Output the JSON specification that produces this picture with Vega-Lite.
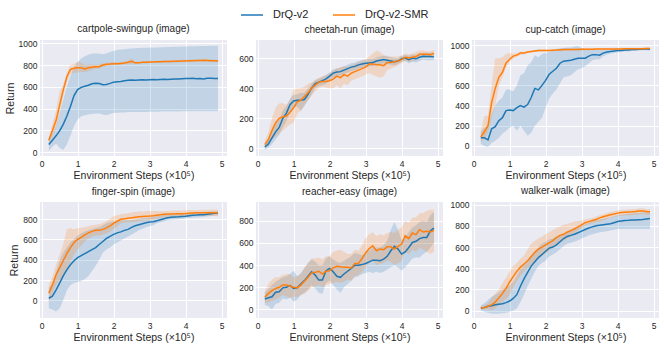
{
"$schema":"https://vega.github.io/schema/vega-lite/v6.json",
"padding":{"left":5,"top":3,"right":5,"bottom":5},
"background":"#ffffff",
"bounds":"flush",
"columns":3,
"spacing":{"row":46,"column":29},
"datasets":{
"cartpole":[
{"method":"DrQ-v2","x":0.2,"y":70,"lo":10,"hi":120},{"method":"DrQ-v2","x":0.3,"y":110,"lo":50,"hi":170},{"method":"DrQ-v2","x":0.4,"y":150,"lo":80,"hi":240},{"method":"DrQ-v2","x":0.5,"y":195,"lo":40,"hi":360},{"method":"DrQ-v2","x":0.6,"y":255,"lo":20,"hi":480},{"method":"DrQ-v2","x":0.7,"y":330,"lo":70,"hi":600},{"method":"DrQ-v2","x":0.8,"y":420,"lo":150,"hi":700},{"method":"DrQ-v2","x":0.9,"y":520,"lo":240,"hi":780},{"method":"DrQ-v2","x":1.0,"y":575,"lo":300,"hi":830},{"method":"DrQ-v2","x":1.1,"y":595,"lo":330,"hi":860},{"method":"DrQ-v2","x":1.2,"y":605,"lo":340,"hi":880},{"method":"DrQ-v2","x":1.3,"y":615,"lo":345,"hi":895},{"method":"DrQ-v2","x":1.4,"y":628,"lo":350,"hi":905},{"method":"DrQ-v2","x":1.5,"y":632,"lo":355,"hi":905},{"method":"DrQ-v2","x":1.6,"y":630,"lo":355,"hi":905},{"method":"DrQ-v2","x":1.7,"y":620,"lo":345,"hi":900},{"method":"DrQ-v2","x":1.8,"y":622,"lo":340,"hi":905},{"method":"DrQ-v2","x":1.9,"y":632,"lo":350,"hi":920},{"method":"DrQ-v2","x":2.0,"y":643,"lo":360,"hi":930},{"method":"DrQ-v2","x":2.1,"y":647,"lo":362,"hi":938},{"method":"DrQ-v2","x":2.2,"y":650,"lo":365,"hi":942},{"method":"DrQ-v2","x":2.3,"y":655,"lo":365,"hi":946},{"method":"DrQ-v2","x":2.4,"y":660,"lo":368,"hi":950},{"method":"DrQ-v2","x":2.5,"y":662,"lo":368,"hi":953},{"method":"DrQ-v2","x":2.6,"y":660,"lo":368,"hi":955},{"method":"DrQ-v2","x":2.7,"y":662,"lo":370,"hi":957},{"method":"DrQ-v2","x":2.8,"y":664,"lo":370,"hi":958},{"method":"DrQ-v2","x":2.9,"y":663,"lo":370,"hi":958},{"method":"DrQ-v2","x":3.0,"y":665,"lo":372,"hi":960},{"method":"DrQ-v2","x":3.1,"y":667,"lo":372,"hi":962},{"method":"DrQ-v2","x":3.2,"y":665,"lo":372,"hi":962},{"method":"DrQ-v2","x":3.3,"y":668,"lo":373,"hi":963},{"method":"DrQ-v2","x":3.4,"y":669,"lo":373,"hi":964},{"method":"DrQ-v2","x":3.5,"y":668,"lo":373,"hi":965},{"method":"DrQ-v2","x":3.6,"y":670,"lo":374,"hi":966},{"method":"DrQ-v2","x":3.7,"y":672,"lo":374,"hi":967},{"method":"DrQ-v2","x":3.8,"y":673,"lo":374,"hi":968},{"method":"DrQ-v2","x":3.9,"y":675,"lo":375,"hi":970},{"method":"DrQ-v2","x":4.0,"y":676,"lo":375,"hi":971},{"method":"DrQ-v2","x":4.1,"y":677,"lo":375,"hi":972},{"method":"DrQ-v2","x":4.2,"y":678,"lo":375,"hi":973},{"method":"DrQ-v2","x":4.3,"y":675,"lo":375,"hi":973},{"method":"DrQ-v2","x":4.4,"y":676,"lo":375,"hi":974},{"method":"DrQ-v2","x":4.5,"y":673,"lo":375,"hi":975},{"method":"DrQ-v2","x":4.6,"y":678,"lo":376,"hi":976},{"method":"DrQ-v2","x":4.7,"y":678,"lo":376,"hi":977},{"method":"DrQ-v2","x":4.8,"y":677,"lo":376,"hi":977},{"method":"DrQ-v2","x":4.9,"y":677,"lo":377,"hi":978},
{"method":"DrQ-v2-SMR","x":0.2,"y":110,"lo":80,"hi":140},{"method":"DrQ-v2-SMR","x":0.3,"y":200,"lo":150,"hi":260},{"method":"DrQ-v2-SMR","x":0.4,"y":290,"lo":220,"hi":380},{"method":"DrQ-v2-SMR","x":0.5,"y":430,"lo":360,"hi":560},{"method":"DrQ-v2-SMR","x":0.6,"y":570,"lo":510,"hi":620},{"method":"DrQ-v2-SMR","x":0.7,"y":690,"lo":640,"hi":730},{"method":"DrQ-v2-SMR","x":0.8,"y":760,"lo":720,"hi":800},{"method":"DrQ-v2-SMR","x":0.9,"y":770,"lo":730,"hi":810},{"method":"DrQ-v2-SMR","x":1.0,"y":775,"lo":730,"hi":830},{"method":"DrQ-v2-SMR","x":1.1,"y":775,"lo":740,"hi":820},{"method":"DrQ-v2-SMR","x":1.2,"y":765,"lo":735,"hi":800},{"method":"DrQ-v2-SMR","x":1.3,"y":775,"lo":745,"hi":805},{"method":"DrQ-v2-SMR","x":1.4,"y":780,"lo":755,"hi":805},{"method":"DrQ-v2-SMR","x":1.5,"y":785,"lo":765,"hi":805},{"method":"DrQ-v2-SMR","x":1.6,"y":785,"lo":768,"hi":802},{"method":"DrQ-v2-SMR","x":1.7,"y":800,"lo":785,"hi":815},{"method":"DrQ-v2-SMR","x":1.8,"y":808,"lo":792,"hi":822},{"method":"DrQ-v2-SMR","x":1.9,"y":810,"lo":796,"hi":824},{"method":"DrQ-v2-SMR","x":2.0,"y":813,"lo":800,"hi":826},{"method":"DrQ-v2-SMR","x":2.1,"y":812,"lo":800,"hi":824},{"method":"DrQ-v2-SMR","x":2.2,"y":815,"lo":803,"hi":827},{"method":"DrQ-v2-SMR","x":2.3,"y":818,"lo":806,"hi":830},{"method":"DrQ-v2-SMR","x":2.4,"y":825,"lo":810,"hi":840},{"method":"DrQ-v2-SMR","x":2.5,"y":835,"lo":808,"hi":860},{"method":"DrQ-v2-SMR","x":2.6,"y":820,"lo":808,"hi":832},{"method":"DrQ-v2-SMR","x":2.7,"y":820,"lo":810,"hi":830},{"method":"DrQ-v2-SMR","x":2.8,"y":825,"lo":815,"hi":835},{"method":"DrQ-v2-SMR","x":2.9,"y":825,"lo":815,"hi":835},{"method":"DrQ-v2-SMR","x":3.0,"y":828,"lo":818,"hi":838},{"method":"DrQ-v2-SMR","x":3.1,"y":828,"lo":818,"hi":838},{"method":"DrQ-v2-SMR","x":3.2,"y":830,"lo":820,"hi":840},{"method":"DrQ-v2-SMR","x":3.3,"y":830,"lo":820,"hi":840},{"method":"DrQ-v2-SMR","x":3.4,"y":832,"lo":822,"hi":842},{"method":"DrQ-v2-SMR","x":3.5,"y":832,"lo":822,"hi":842},{"method":"DrQ-v2-SMR","x":3.6,"y":833,"lo":823,"hi":843},{"method":"DrQ-v2-SMR","x":3.7,"y":835,"lo":825,"hi":845},{"method":"DrQ-v2-SMR","x":3.8,"y":836,"lo":826,"hi":846},{"method":"DrQ-v2-SMR","x":3.9,"y":838,"lo":828,"hi":848},{"method":"DrQ-v2-SMR","x":4.0,"y":838,"lo":828,"hi":848},{"method":"DrQ-v2-SMR","x":4.1,"y":840,"lo":830,"hi":850},{"method":"DrQ-v2-SMR","x":4.2,"y":840,"lo":830,"hi":850},{"method":"DrQ-v2-SMR","x":4.3,"y":842,"lo":832,"hi":852},{"method":"DrQ-v2-SMR","x":4.4,"y":842,"lo":832,"hi":852},{"method":"DrQ-v2-SMR","x":4.5,"y":843,"lo":833,"hi":853},{"method":"DrQ-v2-SMR","x":4.6,"y":842,"lo":832,"hi":852},{"method":"DrQ-v2-SMR","x":4.7,"y":840,"lo":830,"hi":850},{"method":"DrQ-v2-SMR","x":4.8,"y":840,"lo":830,"hi":850},{"method":"DrQ-v2-SMR","x":4.9,"y":838,"lo":828,"hi":848}
],
"cheetah":[
{"method":"DrQ-v2","x":0.2,"y":10,"lo":-10,"hi":30},{"method":"DrQ-v2","x":0.3,"y":30,"lo":5,"hi":55},{"method":"DrQ-v2","x":0.4,"y":70,"lo":30,"hi":110},{"method":"DrQ-v2","x":0.5,"y":110,"lo":60,"hi":160},{"method":"DrQ-v2","x":0.6,"y":140,"lo":90,"hi":190},{"method":"DrQ-v2","x":0.7,"y":200,"lo":140,"hi":250},{"method":"DrQ-v2","x":0.8,"y":235,"lo":180,"hi":280},{"method":"DrQ-v2","x":0.9,"y":290,"lo":240,"hi":330},{"method":"DrQ-v2","x":1.0,"y":315,"lo":270,"hi":355},{"method":"DrQ-v2","x":1.1,"y":320,"lo":280,"hi":360},{"method":"DrQ-v2","x":1.2,"y":320,"lo":250,"hi":370},{"method":"DrQ-v2","x":1.3,"y":325,"lo":280,"hi":370},{"method":"DrQ-v2","x":1.4,"y":360,"lo":320,"hi":400},{"method":"DrQ-v2","x":1.5,"y":400,"lo":360,"hi":430},{"method":"DrQ-v2","x":1.6,"y":430,"lo":400,"hi":455},{"method":"DrQ-v2","x":1.7,"y":440,"lo":415,"hi":465},{"method":"DrQ-v2","x":1.8,"y":450,"lo":420,"hi":475},{"method":"DrQ-v2","x":1.9,"y":462,"lo":430,"hi":490},{"method":"DrQ-v2","x":2.0,"y":480,"lo":450,"hi":505},{"method":"DrQ-v2","x":2.1,"y":500,"lo":470,"hi":525},{"method":"DrQ-v2","x":2.2,"y":508,"lo":480,"hi":530},{"method":"DrQ-v2","x":2.3,"y":510,"lo":485,"hi":535},{"method":"DrQ-v2","x":2.4,"y":520,"lo":495,"hi":545},{"method":"DrQ-v2","x":2.5,"y":530,"lo":505,"hi":555},{"method":"DrQ-v2","x":2.6,"y":540,"lo":515,"hi":565},{"method":"DrQ-v2","x":2.7,"y":545,"lo":520,"hi":570},{"method":"DrQ-v2","x":2.8,"y":555,"lo":530,"hi":580},{"method":"DrQ-v2","x":2.9,"y":560,"lo":535,"hi":585},{"method":"DrQ-v2","x":3.0,"y":565,"lo":540,"hi":590},{"method":"DrQ-v2","x":3.1,"y":568,"lo":545,"hi":595},{"method":"DrQ-v2","x":3.2,"y":570,"lo":545,"hi":595},{"method":"DrQ-v2","x":3.3,"y":580,"lo":555,"hi":605},{"method":"DrQ-v2","x":3.4,"y":585,"lo":560,"hi":610},{"method":"DrQ-v2","x":3.5,"y":590,"lo":565,"hi":615},{"method":"DrQ-v2","x":3.6,"y":585,"lo":560,"hi":610},{"method":"DrQ-v2","x":3.7,"y":580,"lo":555,"hi":605},{"method":"DrQ-v2","x":3.8,"y":575,"lo":550,"hi":600},{"method":"DrQ-v2","x":3.9,"y":580,"lo":560,"hi":600},{"method":"DrQ-v2","x":4.0,"y":595,"lo":575,"hi":615},{"method":"DrQ-v2","x":4.1,"y":600,"lo":580,"hi":620},{"method":"DrQ-v2","x":4.2,"y":590,"lo":565,"hi":615},{"method":"DrQ-v2","x":4.3,"y":600,"lo":575,"hi":625},{"method":"DrQ-v2","x":4.4,"y":595,"lo":570,"hi":620},{"method":"DrQ-v2","x":4.5,"y":605,"lo":580,"hi":630},{"method":"DrQ-v2","x":4.6,"y":612,"lo":590,"hi":635},{"method":"DrQ-v2","x":4.7,"y":610,"lo":585,"hi":635},{"method":"DrQ-v2","x":4.8,"y":610,"lo":585,"hi":635},{"method":"DrQ-v2","x":4.9,"y":608,"lo":585,"hi":630},
{"method":"DrQ-v2-SMR","x":0.2,"y":25,"lo":0,"hi":50},{"method":"DrQ-v2-SMR","x":0.3,"y":60,"lo":20,"hi":110},{"method":"DrQ-v2-SMR","x":0.4,"y":120,"lo":60,"hi":200},{"method":"DrQ-v2-SMR","x":0.5,"y":170,"lo":80,"hi":270},{"method":"DrQ-v2-SMR","x":0.6,"y":200,"lo":100,"hi":300},{"method":"DrQ-v2-SMR","x":0.7,"y":210,"lo":120,"hi":300},{"method":"DrQ-v2-SMR","x":0.8,"y":215,"lo":140,"hi":290},{"method":"DrQ-v2-SMR","x":0.9,"y":240,"lo":160,"hi":320},{"method":"DrQ-v2-SMR","x":1.0,"y":270,"lo":170,"hi":390},{"method":"DrQ-v2-SMR","x":1.1,"y":310,"lo":230,"hi":400},{"method":"DrQ-v2-SMR","x":1.2,"y":320,"lo":250,"hi":400},{"method":"DrQ-v2-SMR","x":1.3,"y":345,"lo":290,"hi":410},{"method":"DrQ-v2-SMR","x":1.4,"y":370,"lo":320,"hi":430},{"method":"DrQ-v2-SMR","x":1.5,"y":400,"lo":350,"hi":440},{"method":"DrQ-v2-SMR","x":1.6,"y":420,"lo":380,"hi":455},{"method":"DrQ-v2-SMR","x":1.7,"y":440,"lo":400,"hi":470},{"method":"DrQ-v2-SMR","x":1.8,"y":445,"lo":410,"hi":480},{"method":"DrQ-v2-SMR","x":1.9,"y":445,"lo":405,"hi":485},{"method":"DrQ-v2-SMR","x":2.0,"y":450,"lo":400,"hi":500},{"method":"DrQ-v2-SMR","x":2.1,"y":460,"lo":400,"hi":520},{"method":"DrQ-v2-SMR","x":2.2,"y":480,"lo":420,"hi":530},{"method":"DrQ-v2-SMR","x":2.3,"y":470,"lo":400,"hi":540},{"method":"DrQ-v2-SMR","x":2.4,"y":490,"lo":430,"hi":545},{"method":"DrQ-v2-SMR","x":2.5,"y":480,"lo":420,"hi":540},{"method":"DrQ-v2-SMR","x":2.6,"y":500,"lo":450,"hi":550},{"method":"DrQ-v2-SMR","x":2.7,"y":510,"lo":460,"hi":560},{"method":"DrQ-v2-SMR","x":2.8,"y":520,"lo":470,"hi":570},{"method":"DrQ-v2-SMR","x":2.9,"y":530,"lo":480,"hi":580},{"method":"DrQ-v2-SMR","x":3.0,"y":540,"lo":490,"hi":590},{"method":"DrQ-v2-SMR","x":3.1,"y":560,"lo":500,"hi":610},{"method":"DrQ-v2-SMR","x":3.2,"y":560,"lo":490,"hi":630},{"method":"DrQ-v2-SMR","x":3.3,"y":555,"lo":480,"hi":650},{"method":"DrQ-v2-SMR","x":3.4,"y":555,"lo":470,"hi":640},{"method":"DrQ-v2-SMR","x":3.5,"y":550,"lo":480,"hi":620},{"method":"DrQ-v2-SMR","x":3.6,"y":570,"lo":520,"hi":615},{"method":"DrQ-v2-SMR","x":3.7,"y":570,"lo":530,"hi":610},{"method":"DrQ-v2-SMR","x":3.8,"y":575,"lo":540,"hi":610},{"method":"DrQ-v2-SMR","x":3.9,"y":580,"lo":550,"hi":610},{"method":"DrQ-v2-SMR","x":4.0,"y":590,"lo":565,"hi":615},{"method":"DrQ-v2-SMR","x":4.1,"y":605,"lo":580,"hi":630},{"method":"DrQ-v2-SMR","x":4.2,"y":600,"lo":575,"hi":625},{"method":"DrQ-v2-SMR","x":4.3,"y":605,"lo":580,"hi":630},{"method":"DrQ-v2-SMR","x":4.4,"y":610,"lo":585,"hi":640},{"method":"DrQ-v2-SMR","x":4.5,"y":625,"lo":600,"hi":650},{"method":"DrQ-v2-SMR","x":4.6,"y":625,"lo":600,"hi":650},{"method":"DrQ-v2-SMR","x":4.7,"y":625,"lo":605,"hi":645},{"method":"DrQ-v2-SMR","x":4.8,"y":622,"lo":600,"hi":645},{"method":"DrQ-v2-SMR","x":4.9,"y":632,"lo":610,"hi":655}
],
"cup":[
{"method":"DrQ-v2","x":0.2,"y":80,"lo":20,"hi":140},{"method":"DrQ-v2","x":0.3,"y":80,"lo":0,"hi":180},{"method":"DrQ-v2","x":0.4,"y":60,"lo":-10,"hi":200},{"method":"DrQ-v2","x":0.5,"y":170,"lo":30,"hi":320},{"method":"DrQ-v2","x":0.6,"y":190,"lo":50,"hi":400},{"method":"DrQ-v2","x":0.7,"y":250,"lo":80,"hi":450},{"method":"DrQ-v2","x":0.8,"y":280,"lo":120,"hi":480},{"method":"DrQ-v2","x":0.9,"y":350,"lo":150,"hi":560},{"method":"DrQ-v2","x":1.0,"y":355,"lo":180,"hi":560},{"method":"DrQ-v2","x":1.1,"y":350,"lo":200,"hi":540},{"method":"DrQ-v2","x":1.2,"y":380,"lo":150,"hi":600},{"method":"DrQ-v2","x":1.3,"y":400,"lo":200,"hi":700},{"method":"DrQ-v2","x":1.4,"y":385,"lo":150,"hi":720},{"method":"DrQ-v2","x":1.5,"y":410,"lo":100,"hi":800},{"method":"DrQ-v2","x":1.6,"y":480,"lo":130,"hi":830},{"method":"DrQ-v2","x":1.7,"y":570,"lo":200,"hi":900},{"method":"DrQ-v2","x":1.8,"y":555,"lo":240,"hi":880},{"method":"DrQ-v2","x":1.9,"y":600,"lo":280,"hi":910},{"method":"DrQ-v2","x":2.0,"y":650,"lo":380,"hi":920},{"method":"DrQ-v2","x":2.1,"y":710,"lo":470,"hi":930},{"method":"DrQ-v2","x":2.2,"y":740,"lo":520,"hi":940},{"method":"DrQ-v2","x":2.3,"y":770,"lo":560,"hi":960},{"method":"DrQ-v2","x":2.4,"y":820,"lo":620,"hi":970},{"method":"DrQ-v2","x":2.5,"y":840,"lo":680,"hi":970},{"method":"DrQ-v2","x":2.6,"y":845,"lo":690,"hi":975},{"method":"DrQ-v2","x":2.7,"y":850,"lo":700,"hi":975},{"method":"DrQ-v2","x":2.8,"y":860,"lo":730,"hi":985},{"method":"DrQ-v2","x":2.9,"y":870,"lo":760,"hi":990},{"method":"DrQ-v2","x":3.0,"y":868,"lo":770,"hi":970},{"method":"DrQ-v2","x":3.1,"y":870,"lo":790,"hi":960},{"method":"DrQ-v2","x":3.2,"y":890,"lo":820,"hi":960},{"method":"DrQ-v2","x":3.3,"y":905,"lo":850,"hi":960},{"method":"DrQ-v2","x":3.4,"y":905,"lo":860,"hi":955},{"method":"DrQ-v2","x":3.5,"y":900,"lo":860,"hi":950},{"method":"DrQ-v2","x":3.6,"y":920,"lo":890,"hi":955},{"method":"DrQ-v2","x":3.7,"y":930,"lo":905,"hi":958},{"method":"DrQ-v2","x":3.8,"y":935,"lo":915,"hi":960},{"method":"DrQ-v2","x":3.9,"y":940,"lo":920,"hi":962},{"method":"DrQ-v2","x":4.0,"y":945,"lo":928,"hi":963},{"method":"DrQ-v2","x":4.1,"y":945,"lo":930,"hi":963},{"method":"DrQ-v2","x":4.2,"y":950,"lo":935,"hi":965},{"method":"DrQ-v2","x":4.3,"y":950,"lo":935,"hi":965},{"method":"DrQ-v2","x":4.4,"y":955,"lo":940,"hi":968},{"method":"DrQ-v2","x":4.5,"y":955,"lo":940,"hi":968},{"method":"DrQ-v2","x":4.6,"y":958,"lo":945,"hi":970},{"method":"DrQ-v2","x":4.7,"y":960,"lo":948,"hi":971},{"method":"DrQ-v2","x":4.8,"y":960,"lo":948,"hi":972},{"method":"DrQ-v2","x":4.9,"y":958,"lo":946,"hi":970},
{"method":"DrQ-v2-SMR","x":0.2,"y":90,"lo":40,"hi":150},{"method":"DrQ-v2-SMR","x":0.3,"y":140,"lo":70,"hi":300},{"method":"DrQ-v2-SMR","x":0.4,"y":200,"lo":130,"hi":300},{"method":"DrQ-v2-SMR","x":0.5,"y":430,"lo":280,"hi":600},{"method":"DrQ-v2-SMR","x":0.6,"y":570,"lo":400,"hi":870},{"method":"DrQ-v2-SMR","x":0.7,"y":680,"lo":600,"hi":870},{"method":"DrQ-v2-SMR","x":0.8,"y":730,"lo":680,"hi":880},{"method":"DrQ-v2-SMR","x":0.9,"y":820,"lo":780,"hi":910},{"method":"DrQ-v2-SMR","x":1.0,"y":860,"lo":830,"hi":920},{"method":"DrQ-v2-SMR","x":1.1,"y":890,"lo":870,"hi":915},{"method":"DrQ-v2-SMR","x":1.2,"y":900,"lo":885,"hi":920},{"method":"DrQ-v2-SMR","x":1.3,"y":920,"lo":905,"hi":935},{"method":"DrQ-v2-SMR","x":1.4,"y":920,"lo":905,"hi":935},{"method":"DrQ-v2-SMR","x":1.5,"y":930,"lo":918,"hi":942},{"method":"DrQ-v2-SMR","x":1.6,"y":935,"lo":925,"hi":945},{"method":"DrQ-v2-SMR","x":1.7,"y":942,"lo":932,"hi":952},{"method":"DrQ-v2-SMR","x":1.8,"y":945,"lo":935,"hi":955},{"method":"DrQ-v2-SMR","x":1.9,"y":945,"lo":935,"hi":955},{"method":"DrQ-v2-SMR","x":2.0,"y":945,"lo":935,"hi":955},{"method":"DrQ-v2-SMR","x":2.1,"y":945,"lo":935,"hi":955},{"method":"DrQ-v2-SMR","x":2.2,"y":948,"lo":938,"hi":958},{"method":"DrQ-v2-SMR","x":2.3,"y":950,"lo":940,"hi":960},{"method":"DrQ-v2-SMR","x":2.4,"y":952,"lo":942,"hi":962},{"method":"DrQ-v2-SMR","x":2.5,"y":955,"lo":945,"hi":965},{"method":"DrQ-v2-SMR","x":2.6,"y":955,"lo":945,"hi":965},{"method":"DrQ-v2-SMR","x":2.7,"y":956,"lo":946,"hi":966},{"method":"DrQ-v2-SMR","x":2.8,"y":957,"lo":947,"hi":967},{"method":"DrQ-v2-SMR","x":2.9,"y":957,"lo":947,"hi":967},{"method":"DrQ-v2-SMR","x":3.0,"y":958,"lo":948,"hi":968},{"method":"DrQ-v2-SMR","x":3.1,"y":958,"lo":948,"hi":968},{"method":"DrQ-v2-SMR","x":3.2,"y":959,"lo":949,"hi":969},{"method":"DrQ-v2-SMR","x":3.3,"y":959,"lo":949,"hi":969},{"method":"DrQ-v2-SMR","x":3.4,"y":960,"lo":950,"hi":970},{"method":"DrQ-v2-SMR","x":3.5,"y":960,"lo":950,"hi":970},{"method":"DrQ-v2-SMR","x":3.6,"y":961,"lo":951,"hi":971},{"method":"DrQ-v2-SMR","x":3.7,"y":961,"lo":951,"hi":971},{"method":"DrQ-v2-SMR","x":3.8,"y":961,"lo":951,"hi":971},{"method":"DrQ-v2-SMR","x":3.9,"y":962,"lo":952,"hi":972},{"method":"DrQ-v2-SMR","x":4.0,"y":962,"lo":952,"hi":972},{"method":"DrQ-v2-SMR","x":4.1,"y":962,"lo":952,"hi":972},{"method":"DrQ-v2-SMR","x":4.2,"y":963,"lo":953,"hi":973},{"method":"DrQ-v2-SMR","x":4.3,"y":963,"lo":953,"hi":973},{"method":"DrQ-v2-SMR","x":4.4,"y":963,"lo":953,"hi":973},{"method":"DrQ-v2-SMR","x":4.5,"y":964,"lo":954,"hi":974},{"method":"DrQ-v2-SMR","x":4.6,"y":964,"lo":954,"hi":974},{"method":"DrQ-v2-SMR","x":4.7,"y":964,"lo":954,"hi":974},{"method":"DrQ-v2-SMR","x":4.8,"y":965,"lo":955,"hi":975},{"method":"DrQ-v2-SMR","x":4.9,"y":965,"lo":955,"hi":975}
],
"finger":[
{"method":"DrQ-v2","x":0.2,"y":20,"lo":-80,"hi":120},{"method":"DrQ-v2","x":0.3,"y":40,"lo":-90,"hi":170},{"method":"DrQ-v2","x":0.4,"y":100,"lo":-110,"hi":280},{"method":"DrQ-v2","x":0.5,"y":170,"lo":-80,"hi":390},{"method":"DrQ-v2","x":0.6,"y":240,"lo":0,"hi":470},{"method":"DrQ-v2","x":0.7,"y":300,"lo":100,"hi":520},{"method":"DrQ-v2","x":0.8,"y":350,"lo":150,"hi":570},{"method":"DrQ-v2","x":0.9,"y":390,"lo":170,"hi":600},{"method":"DrQ-v2","x":1.0,"y":420,"lo":180,"hi":640},{"method":"DrQ-v2","x":1.1,"y":440,"lo":190,"hi":660},{"method":"DrQ-v2","x":1.2,"y":460,"lo":210,"hi":680},{"method":"DrQ-v2","x":1.3,"y":480,"lo":240,"hi":690},{"method":"DrQ-v2","x":1.4,"y":500,"lo":290,"hi":700},{"method":"DrQ-v2","x":1.5,"y":520,"lo":340,"hi":710},{"method":"DrQ-v2","x":1.6,"y":550,"lo":400,"hi":720},{"method":"DrQ-v2","x":1.7,"y":580,"lo":470,"hi":740},{"method":"DrQ-v2","x":1.8,"y":610,"lo":500,"hi":760},{"method":"DrQ-v2","x":1.9,"y":630,"lo":520,"hi":770},{"method":"DrQ-v2","x":2.0,"y":650,"lo":550,"hi":780},{"method":"DrQ-v2","x":2.1,"y":665,"lo":570,"hi":785},{"method":"DrQ-v2","x":2.2,"y":675,"lo":590,"hi":790},{"method":"DrQ-v2","x":2.3,"y":690,"lo":610,"hi":790},{"method":"DrQ-v2","x":2.4,"y":700,"lo":630,"hi":790},{"method":"DrQ-v2","x":2.5,"y":720,"lo":650,"hi":795},{"method":"DrQ-v2","x":2.6,"y":735,"lo":670,"hi":800},{"method":"DrQ-v2","x":2.7,"y":745,"lo":690,"hi":805},{"method":"DrQ-v2","x":2.8,"y":755,"lo":705,"hi":810},{"method":"DrQ-v2","x":2.9,"y":765,"lo":720,"hi":815},{"method":"DrQ-v2","x":3.0,"y":772,"lo":730,"hi":820},{"method":"DrQ-v2","x":3.1,"y":775,"lo":740,"hi":825},{"method":"DrQ-v2","x":3.2,"y":785,"lo":760,"hi":830},{"method":"DrQ-v2","x":3.3,"y":795,"lo":770,"hi":835},{"method":"DrQ-v2","x":3.4,"y":805,"lo":780,"hi":845},{"method":"DrQ-v2","x":3.5,"y":815,"lo":790,"hi":850},{"method":"DrQ-v2","x":3.6,"y":820,"lo":795,"hi":852},{"method":"DrQ-v2","x":3.7,"y":823,"lo":798,"hi":854},{"method":"DrQ-v2","x":3.8,"y":825,"lo":800,"hi":855},{"method":"DrQ-v2","x":3.9,"y":828,"lo":803,"hi":857},{"method":"DrQ-v2","x":4.0,"y":830,"lo":810,"hi":860},{"method":"DrQ-v2","x":4.1,"y":835,"lo":812,"hi":862},{"method":"DrQ-v2","x":4.2,"y":840,"lo":815,"hi":865},{"method":"DrQ-v2","x":4.3,"y":842,"lo":818,"hi":867},{"method":"DrQ-v2","x":4.4,"y":845,"lo":820,"hi":868},{"method":"DrQ-v2","x":4.5,"y":845,"lo":825,"hi":870},{"method":"DrQ-v2","x":4.6,"y":850,"lo":828,"hi":873},{"method":"DrQ-v2","x":4.7,"y":855,"lo":832,"hi":876},{"method":"DrQ-v2","x":4.8,"y":858,"lo":836,"hi":878},{"method":"DrQ-v2","x":4.9,"y":860,"lo":840,"hi":880},
{"method":"DrQ-v2-SMR","x":0.2,"y":70,"lo":-20,"hi":160},{"method":"DrQ-v2-SMR","x":0.3,"y":150,"lo":70,"hi":230},{"method":"DrQ-v2-SMR","x":0.4,"y":250,"lo":150,"hi":350},{"method":"DrQ-v2-SMR","x":0.5,"y":320,"lo":200,"hi":450},{"method":"DrQ-v2-SMR","x":0.6,"y":390,"lo":240,"hi":550},{"method":"DrQ-v2-SMR","x":0.7,"y":460,"lo":300,"hi":700},{"method":"DrQ-v2-SMR","x":0.8,"y":520,"lo":380,"hi":710},{"method":"DrQ-v2-SMR","x":0.9,"y":570,"lo":450,"hi":700},{"method":"DrQ-v2-SMR","x":1.0,"y":600,"lo":500,"hi":710},{"method":"DrQ-v2-SMR","x":1.1,"y":620,"lo":540,"hi":715},{"method":"DrQ-v2-SMR","x":1.2,"y":645,"lo":580,"hi":720},{"method":"DrQ-v2-SMR","x":1.3,"y":665,"lo":610,"hi":730},{"method":"DrQ-v2-SMR","x":1.4,"y":680,"lo":630,"hi":740},{"method":"DrQ-v2-SMR","x":1.5,"y":690,"lo":640,"hi":745},{"method":"DrQ-v2-SMR","x":1.6,"y":690,"lo":640,"hi":750},{"method":"DrQ-v2-SMR","x":1.7,"y":700,"lo":650,"hi":765},{"method":"DrQ-v2-SMR","x":1.8,"y":715,"lo":660,"hi":780},{"method":"DrQ-v2-SMR","x":1.9,"y":735,"lo":680,"hi":805},{"method":"DrQ-v2-SMR","x":2.0,"y":760,"lo":700,"hi":830},{"method":"DrQ-v2-SMR","x":2.1,"y":780,"lo":730,"hi":840},{"method":"DrQ-v2-SMR","x":2.2,"y":800,"lo":760,"hi":850},{"method":"DrQ-v2-SMR","x":2.3,"y":805,"lo":765,"hi":855},{"method":"DrQ-v2-SMR","x":2.4,"y":810,"lo":770,"hi":860},{"method":"DrQ-v2-SMR","x":2.5,"y":815,"lo":770,"hi":870},{"method":"DrQ-v2-SMR","x":2.6,"y":820,"lo":775,"hi":872},{"method":"DrQ-v2-SMR","x":2.7,"y":825,"lo":780,"hi":875},{"method":"DrQ-v2-SMR","x":2.8,"y":828,"lo":785,"hi":877},{"method":"DrQ-v2-SMR","x":2.9,"y":830,"lo":788,"hi":878},{"method":"DrQ-v2-SMR","x":3.0,"y":832,"lo":790,"hi":880},{"method":"DrQ-v2-SMR","x":3.1,"y":835,"lo":795,"hi":880},{"method":"DrQ-v2-SMR","x":3.2,"y":840,"lo":805,"hi":880},{"method":"DrQ-v2-SMR","x":3.3,"y":845,"lo":812,"hi":880},{"method":"DrQ-v2-SMR","x":3.4,"y":850,"lo":818,"hi":882},{"method":"DrQ-v2-SMR","x":3.5,"y":852,"lo":820,"hi":882},{"method":"DrQ-v2-SMR","x":3.6,"y":852,"lo":822,"hi":884},{"method":"DrQ-v2-SMR","x":3.7,"y":853,"lo":825,"hi":885},{"method":"DrQ-v2-SMR","x":3.8,"y":855,"lo":827,"hi":886},{"method":"DrQ-v2-SMR","x":3.9,"y":855,"lo":828,"hi":887},{"method":"DrQ-v2-SMR","x":4.0,"y":857,"lo":830,"hi":888},{"method":"DrQ-v2-SMR","x":4.1,"y":860,"lo":830,"hi":890},{"method":"DrQ-v2-SMR","x":4.2,"y":862,"lo":832,"hi":890},{"method":"DrQ-v2-SMR","x":4.3,"y":863,"lo":833,"hi":892},{"method":"DrQ-v2-SMR","x":4.4,"y":863,"lo":833,"hi":892},{"method":"DrQ-v2-SMR","x":4.5,"y":863,"lo":832,"hi":893},{"method":"DrQ-v2-SMR","x":4.6,"y":864,"lo":832,"hi":894},{"method":"DrQ-v2-SMR","x":4.7,"y":864,"lo":832,"hi":895},{"method":"DrQ-v2-SMR","x":4.8,"y":864,"lo":832,"hi":895},{"method":"DrQ-v2-SMR","x":4.9,"y":862,"lo":830,"hi":893}
],
"reacher":[
{"method":"DrQ-v2","x":0.2,"y":95,"lo":40,"hi":150},{"method":"DrQ-v2","x":0.3,"y":105,"lo":30,"hi":190},{"method":"DrQ-v2","x":0.4,"y":115,"lo":0,"hi":220},{"method":"DrQ-v2","x":0.5,"y":155,"lo":50,"hi":250},{"method":"DrQ-v2","x":0.6,"y":160,"lo":60,"hi":270},{"method":"DrQ-v2","x":0.7,"y":195,"lo":100,"hi":290},{"method":"DrQ-v2","x":0.8,"y":200,"lo":90,"hi":300},{"method":"DrQ-v2","x":0.9,"y":215,"lo":110,"hi":320},{"method":"DrQ-v2","x":1.0,"y":190,"lo":70,"hi":350},{"method":"DrQ-v2","x":1.1,"y":195,"lo":90,"hi":300},{"method":"DrQ-v2","x":1.2,"y":230,"lo":130,"hi":330},{"method":"DrQ-v2","x":1.3,"y":260,"lo":150,"hi":370},{"method":"DrQ-v2","x":1.4,"y":300,"lo":180,"hi":420},{"method":"DrQ-v2","x":1.5,"y":340,"lo":220,"hi":450},{"method":"DrQ-v2","x":1.6,"y":310,"lo":190,"hi":430},{"method":"DrQ-v2","x":1.7,"y":265,"lo":150,"hi":400},{"method":"DrQ-v2","x":1.8,"y":265,"lo":140,"hi":400},{"method":"DrQ-v2","x":1.9,"y":350,"lo":240,"hi":460},{"method":"DrQ-v2","x":2.0,"y":370,"lo":260,"hi":480},{"method":"DrQ-v2","x":2.1,"y":340,"lo":220,"hi":450},{"method":"DrQ-v2","x":2.2,"y":300,"lo":180,"hi":430},{"method":"DrQ-v2","x":2.3,"y":290,"lo":150,"hi":420},{"method":"DrQ-v2","x":2.4,"y":320,"lo":200,"hi":440},{"method":"DrQ-v2","x":2.5,"y":345,"lo":230,"hi":460},{"method":"DrQ-v2","x":2.6,"y":370,"lo":260,"hi":480},{"method":"DrQ-v2","x":2.7,"y":400,"lo":290,"hi":510},{"method":"DrQ-v2","x":2.8,"y":400,"lo":300,"hi":500},{"method":"DrQ-v2","x":2.9,"y":405,"lo":320,"hi":490},{"method":"DrQ-v2","x":3.0,"y":415,"lo":330,"hi":510},{"method":"DrQ-v2","x":3.1,"y":430,"lo":340,"hi":530},{"method":"DrQ-v2","x":3.2,"y":445,"lo":330,"hi":560},{"method":"DrQ-v2","x":3.3,"y":445,"lo":340,"hi":560},{"method":"DrQ-v2","x":3.4,"y":440,"lo":330,"hi":560},{"method":"DrQ-v2","x":3.5,"y":455,"lo":340,"hi":580},{"method":"DrQ-v2","x":3.6,"y":480,"lo":360,"hi":620},{"method":"DrQ-v2","x":3.7,"y":530,"lo":380,"hi":720},{"method":"DrQ-v2","x":3.8,"y":570,"lo":400,"hi":790},{"method":"DrQ-v2","x":3.9,"y":545,"lo":380,"hi":720},{"method":"DrQ-v2","x":4.0,"y":500,"lo":350,"hi":620},{"method":"DrQ-v2","x":4.1,"y":520,"lo":380,"hi":650},{"method":"DrQ-v2","x":4.2,"y":560,"lo":420,"hi":700},{"method":"DrQ-v2","x":4.3,"y":605,"lo":460,"hi":740},{"method":"DrQ-v2","x":4.4,"y":615,"lo":470,"hi":760},{"method":"DrQ-v2","x":4.5,"y":640,"lo":470,"hi":790},{"method":"DrQ-v2","x":4.6,"y":650,"lo":500,"hi":800},{"method":"DrQ-v2","x":4.7,"y":650,"lo":520,"hi":790},{"method":"DrQ-v2","x":4.8,"y":710,"lo":560,"hi":850},{"method":"DrQ-v2","x":4.9,"y":735,"lo":600,"hi":880},
{"method":"DrQ-v2-SMR","x":0.2,"y":110,"lo":60,"hi":170},{"method":"DrQ-v2-SMR","x":0.3,"y":145,"lo":60,"hi":230},{"method":"DrQ-v2-SMR","x":0.4,"y":170,"lo":80,"hi":270},{"method":"DrQ-v2-SMR","x":0.5,"y":190,"lo":90,"hi":290},{"method":"DrQ-v2-SMR","x":0.6,"y":200,"lo":110,"hi":290},{"method":"DrQ-v2-SMR","x":0.7,"y":220,"lo":130,"hi":310},{"method":"DrQ-v2-SMR","x":0.8,"y":220,"lo":120,"hi":320},{"method":"DrQ-v2-SMR","x":0.9,"y":210,"lo":100,"hi":320},{"method":"DrQ-v2-SMR","x":1.0,"y":200,"lo":120,"hi":290},{"method":"DrQ-v2-SMR","x":1.1,"y":195,"lo":110,"hi":300},{"method":"DrQ-v2-SMR","x":1.2,"y":220,"lo":130,"hi":320},{"method":"DrQ-v2-SMR","x":1.3,"y":255,"lo":140,"hi":380},{"method":"DrQ-v2-SMR","x":1.4,"y":290,"lo":170,"hi":420},{"method":"DrQ-v2-SMR","x":1.5,"y":330,"lo":200,"hi":460},{"method":"DrQ-v2-SMR","x":1.6,"y":335,"lo":210,"hi":460},{"method":"DrQ-v2-SMR","x":1.7,"y":345,"lo":220,"hi":470},{"method":"DrQ-v2-SMR","x":1.8,"y":320,"lo":200,"hi":450},{"method":"DrQ-v2-SMR","x":1.9,"y":345,"lo":220,"hi":480},{"method":"DrQ-v2-SMR","x":2.0,"y":350,"lo":230,"hi":480},{"method":"DrQ-v2-SMR","x":2.1,"y":375,"lo":240,"hi":520},{"method":"DrQ-v2-SMR","x":2.2,"y":390,"lo":250,"hi":530},{"method":"DrQ-v2-SMR","x":2.3,"y":385,"lo":240,"hi":540},{"method":"DrQ-v2-SMR","x":2.4,"y":380,"lo":250,"hi":520},{"method":"DrQ-v2-SMR","x":2.5,"y":380,"lo":270,"hi":500},{"method":"DrQ-v2-SMR","x":2.6,"y":375,"lo":260,"hi":500},{"method":"DrQ-v2-SMR","x":2.7,"y":415,"lo":300,"hi":540},{"method":"DrQ-v2-SMR","x":2.8,"y":415,"lo":310,"hi":530},{"method":"DrQ-v2-SMR","x":2.9,"y":460,"lo":340,"hi":580},{"method":"DrQ-v2-SMR","x":3.0,"y":510,"lo":380,"hi":640},{"method":"DrQ-v2-SMR","x":3.1,"y":550,"lo":420,"hi":680},{"method":"DrQ-v2-SMR","x":3.2,"y":575,"lo":440,"hi":700},{"method":"DrQ-v2-SMR","x":3.3,"y":530,"lo":400,"hi":660},{"method":"DrQ-v2-SMR","x":3.4,"y":545,"lo":410,"hi":680},{"method":"DrQ-v2-SMR","x":3.5,"y":540,"lo":420,"hi":670},{"method":"DrQ-v2-SMR","x":3.6,"y":565,"lo":440,"hi":690},{"method":"DrQ-v2-SMR","x":3.7,"y":565,"lo":430,"hi":700},{"method":"DrQ-v2-SMR","x":3.8,"y":545,"lo":400,"hi":690},{"method":"DrQ-v2-SMR","x":3.9,"y":570,"lo":420,"hi":720},{"method":"DrQ-v2-SMR","x":4.0,"y":590,"lo":440,"hi":740},{"method":"DrQ-v2-SMR","x":4.1,"y":665,"lo":520,"hi":800},{"method":"DrQ-v2-SMR","x":4.2,"y":640,"lo":500,"hi":780},{"method":"DrQ-v2-SMR","x":4.3,"y":690,"lo":540,"hi":830},{"method":"DrQ-v2-SMR","x":4.4,"y":675,"lo":520,"hi":830},{"method":"DrQ-v2-SMR","x":4.5,"y":720,"lo":560,"hi":870},{"method":"DrQ-v2-SMR","x":4.6,"y":700,"lo":540,"hi":870},{"method":"DrQ-v2-SMR","x":4.7,"y":705,"lo":520,"hi":890},{"method":"DrQ-v2-SMR","x":4.8,"y":700,"lo":500,"hi":900},{"method":"DrQ-v2-SMR","x":4.9,"y":715,"lo":520,"hi":900}
],
"walker":[
{"method":"DrQ-v2","x":0.2,"y":25,"lo":0,"hi":50},{"method":"DrQ-v2","x":0.3,"y":30,"lo":-10,"hi":70},{"method":"DrQ-v2","x":0.4,"y":40,"lo":-20,"hi":100},{"method":"DrQ-v2","x":0.5,"y":45,"lo":-30,"hi":130},{"method":"DrQ-v2","x":0.6,"y":55,"lo":-30,"hi":150},{"method":"DrQ-v2","x":0.7,"y":60,"lo":-30,"hi":170},{"method":"DrQ-v2","x":0.8,"y":65,"lo":-25,"hi":200},{"method":"DrQ-v2","x":0.9,"y":75,"lo":-20,"hi":220},{"method":"DrQ-v2","x":1.0,"y":90,"lo":-10,"hi":240},{"method":"DrQ-v2","x":1.1,"y":115,"lo":0,"hi":270},{"method":"DrQ-v2","x":1.2,"y":150,"lo":20,"hi":330},{"method":"DrQ-v2","x":1.3,"y":230,"lo":80,"hi":390},{"method":"DrQ-v2","x":1.4,"y":300,"lo":150,"hi":430},{"method":"DrQ-v2","x":1.5,"y":360,"lo":230,"hi":460},{"method":"DrQ-v2","x":1.6,"y":420,"lo":300,"hi":510},{"method":"DrQ-v2","x":1.7,"y":460,"lo":370,"hi":560},{"method":"DrQ-v2","x":1.8,"y":500,"lo":420,"hi":600},{"method":"DrQ-v2","x":1.9,"y":530,"lo":450,"hi":630},{"method":"DrQ-v2","x":2.0,"y":560,"lo":470,"hi":650},{"method":"DrQ-v2","x":2.1,"y":590,"lo":510,"hi":670},{"method":"DrQ-v2","x":2.2,"y":600,"lo":530,"hi":680},{"method":"DrQ-v2","x":2.3,"y":620,"lo":550,"hi":700},{"method":"DrQ-v2","x":2.4,"y":650,"lo":580,"hi":715},{"method":"DrQ-v2","x":2.5,"y":680,"lo":610,"hi":730},{"method":"DrQ-v2","x":2.6,"y":700,"lo":630,"hi":750},{"method":"DrQ-v2","x":2.7,"y":710,"lo":640,"hi":765},{"method":"DrQ-v2","x":2.8,"y":720,"lo":650,"hi":780},{"method":"DrQ-v2","x":2.9,"y":735,"lo":665,"hi":790},{"method":"DrQ-v2","x":3.0,"y":750,"lo":680,"hi":800},{"method":"DrQ-v2","x":3.1,"y":765,"lo":695,"hi":815},{"method":"DrQ-v2","x":3.2,"y":780,"lo":710,"hi":830},{"method":"DrQ-v2","x":3.3,"y":790,"lo":720,"hi":840},{"method":"DrQ-v2","x":3.4,"y":800,"lo":730,"hi":850},{"method":"DrQ-v2","x":3.5,"y":805,"lo":740,"hi":860},{"method":"DrQ-v2","x":3.6,"y":810,"lo":745,"hi":868},{"method":"DrQ-v2","x":3.7,"y":815,"lo":750,"hi":875},{"method":"DrQ-v2","x":3.8,"y":820,"lo":755,"hi":882},{"method":"DrQ-v2","x":3.9,"y":830,"lo":762,"hi":890},{"method":"DrQ-v2","x":4.0,"y":840,"lo":770,"hi":900},{"method":"DrQ-v2","x":4.1,"y":845,"lo":770,"hi":905},{"method":"DrQ-v2","x":4.2,"y":850,"lo":770,"hi":910},{"method":"DrQ-v2","x":4.3,"y":852,"lo":770,"hi":915},{"method":"DrQ-v2","x":4.4,"y":855,"lo":770,"hi":918},{"method":"DrQ-v2","x":4.5,"y":855,"lo":770,"hi":920},{"method":"DrQ-v2","x":4.6,"y":858,"lo":770,"hi":922},{"method":"DrQ-v2","x":4.7,"y":860,"lo":770,"hi":925},{"method":"DrQ-v2","x":4.8,"y":865,"lo":770,"hi":928},{"method":"DrQ-v2","x":4.9,"y":870,"lo":770,"hi":930},
{"method":"DrQ-v2-SMR","x":0.2,"y":25,"lo":10,"hi":40},{"method":"DrQ-v2-SMR","x":0.3,"y":30,"lo":10,"hi":50},{"method":"DrQ-v2-SMR","x":0.4,"y":40,"lo":10,"hi":70},{"method":"DrQ-v2-SMR","x":0.5,"y":55,"lo":0,"hi":120},{"method":"DrQ-v2-SMR","x":0.6,"y":80,"lo":20,"hi":160},{"method":"DrQ-v2-SMR","x":0.7,"y":120,"lo":50,"hi":200},{"method":"DrQ-v2-SMR","x":0.8,"y":160,"lo":80,"hi":260},{"method":"DrQ-v2-SMR","x":0.9,"y":210,"lo":110,"hi":310},{"method":"DrQ-v2-SMR","x":1.0,"y":270,"lo":150,"hi":370},{"method":"DrQ-v2-SMR","x":1.1,"y":320,"lo":220,"hi":420},{"method":"DrQ-v2-SMR","x":1.2,"y":370,"lo":280,"hi":450},{"method":"DrQ-v2-SMR","x":1.3,"y":410,"lo":330,"hi":490},{"method":"DrQ-v2-SMR","x":1.4,"y":440,"lo":370,"hi":520},{"method":"DrQ-v2-SMR","x":1.5,"y":470,"lo":400,"hi":580},{"method":"DrQ-v2-SMR","x":1.6,"y":510,"lo":430,"hi":630},{"method":"DrQ-v2-SMR","x":1.7,"y":550,"lo":470,"hi":660},{"method":"DrQ-v2-SMR","x":1.8,"y":580,"lo":490,"hi":680},{"method":"DrQ-v2-SMR","x":1.9,"y":600,"lo":520,"hi":700},{"method":"DrQ-v2-SMR","x":2.0,"y":620,"lo":540,"hi":720},{"method":"DrQ-v2-SMR","x":2.1,"y":640,"lo":570,"hi":740},{"method":"DrQ-v2-SMR","x":2.2,"y":660,"lo":590,"hi":760},{"method":"DrQ-v2-SMR","x":2.3,"y":690,"lo":620,"hi":780},{"method":"DrQ-v2-SMR","x":2.4,"y":710,"lo":640,"hi":795},{"method":"DrQ-v2-SMR","x":2.5,"y":720,"lo":660,"hi":810},{"method":"DrQ-v2-SMR","x":2.6,"y":740,"lo":680,"hi":820},{"method":"DrQ-v2-SMR","x":2.7,"y":755,"lo":700,"hi":830},{"method":"DrQ-v2-SMR","x":2.8,"y":770,"lo":730,"hi":840},{"method":"DrQ-v2-SMR","x":2.9,"y":790,"lo":755,"hi":845},{"method":"DrQ-v2-SMR","x":3.0,"y":810,"lo":780,"hi":850},{"method":"DrQ-v2-SMR","x":3.1,"y":830,"lo":800,"hi":860},{"method":"DrQ-v2-SMR","x":3.2,"y":840,"lo":815,"hi":868},{"method":"DrQ-v2-SMR","x":3.3,"y":850,"lo":825,"hi":875},{"method":"DrQ-v2-SMR","x":3.4,"y":860,"lo":835,"hi":885},{"method":"DrQ-v2-SMR","x":3.5,"y":875,"lo":840,"hi":900},{"method":"DrQ-v2-SMR","x":3.6,"y":885,"lo":850,"hi":910},{"method":"DrQ-v2-SMR","x":3.7,"y":895,"lo":865,"hi":920},{"method":"DrQ-v2-SMR","x":3.8,"y":905,"lo":878,"hi":930},{"method":"DrQ-v2-SMR","x":3.9,"y":912,"lo":885,"hi":938},{"method":"DrQ-v2-SMR","x":4.0,"y":920,"lo":890,"hi":945},{"method":"DrQ-v2-SMR","x":4.1,"y":925,"lo":895,"hi":950},{"method":"DrQ-v2-SMR","x":4.2,"y":928,"lo":898,"hi":952},{"method":"DrQ-v2-SMR","x":4.3,"y":930,"lo":900,"hi":955},{"method":"DrQ-v2-SMR","x":4.4,"y":932,"lo":902,"hi":958},{"method":"DrQ-v2-SMR","x":4.5,"y":935,"lo":905,"hi":960},{"method":"DrQ-v2-SMR","x":4.6,"y":940,"lo":910,"hi":965},{"method":"DrQ-v2-SMR","x":4.7,"y":940,"lo":910,"hi":965},{"method":"DrQ-v2-SMR","x":4.8,"y":935,"lo":905,"hi":960},{"method":"DrQ-v2-SMR","x":4.9,"y":932,"lo":902,"hi":958}
]
},
"concat":[
{"width":187,"height":116,"title":"cartpole-swingup (image)","data":{"name":"cartpole"},
"layer":[
{"mark":{"type":"area","opacity":0.2},"encoding":{
"x":{"field":"x","type":"quantitative","scale":{"domain":[-0.045,5.15],"nice":false,"zero":false},"axis":{"values":[0,1,2,3,4,5],"format":"d","labelOverlap":false,"title":"Environment Steps (×10⁵)"}},
"y":{"field":"lo","type":"quantitative","scale":{"domain":[-35,1030],"nice":false,"zero":false},"axis":{"values":[0,200,400,600,800,1000],"format":"d","title":"Return"}},
"y2":{"field":"hi"},
"color":{"field":"method","type":"nominal","scale":{"domain":["DrQ-v2","DrQ-v2-SMR"],"range":["#1f77b4","#ff7f0e"]}}}},
{"mark":{"type":"line","strokeWidth":1.5},"encoding":{
"x":{"field":"x","type":"quantitative","axis":{"values":[0,1,2,3,4,5],"format":"d","labelOverlap":false,"title":"Environment Steps (×10⁵)"}},
"y":{"field":"y","type":"quantitative","axis":{"values":[0,200,400,600,800,1000],"format":"d","title":"Return"}},
"color":{"field":"method","type":"nominal"}}}
]},
{"width":187,"height":116,"title":"cheetah-run (image)","data":{"name":"cheetah"},
"layer":[
{"mark":{"type":"area","opacity":0.2},"encoding":{
"x":{"field":"x","type":"quantitative","scale":{"domain":[-0.045,5.15],"nice":false,"zero":false},"axis":{"values":[0,1,2,3,4,5],"format":"d","labelOverlap":false,"title":"Environment Steps (×10⁵)"}},
"y":{"field":"lo","type":"quantitative","scale":{"domain":[-50,720],"nice":false,"zero":false},"axis":{"values":[0,200,400,600],"format":"d","title":null}},
"y2":{"field":"hi"},
"color":{"field":"method","type":"nominal"}}},
{"mark":{"type":"line","strokeWidth":1.5},"encoding":{
"x":{"field":"x","type":"quantitative","axis":{"values":[0,1,2,3,4,5],"format":"d","labelOverlap":false,"title":"Environment Steps (×10⁵)"}},
"y":{"field":"y","type":"quantitative","axis":{"values":[0,200,400,600],"format":"d","title":null}},
"color":{"field":"method","type":"nominal"}}}
]},
{"width":187,"height":116,"title":"cup-catch (image)","data":{"name":"cup"},
"layer":[
{"mark":{"type":"area","opacity":0.2},"encoding":{
"x":{"field":"x","type":"quantitative","scale":{"domain":[-0.045,5.15],"nice":false,"zero":false},"axis":{"values":[0,1,2,3,4,5],"format":"d","labelOverlap":false,"title":"Environment Steps (×10⁵)"}},
"y":{"field":"lo","type":"quantitative","scale":{"domain":[-100,1050],"nice":false,"zero":false},"axis":{"values":[0,200,400,600,800,1000],"format":"d","title":null}},
"y2":{"field":"hi"},
"color":{"field":"method","type":"nominal"}}},
{"mark":{"type":"line","strokeWidth":1.5},"encoding":{
"x":{"field":"x","type":"quantitative","axis":{"values":[0,1,2,3,4,5],"format":"d","labelOverlap":false,"title":"Environment Steps (×10⁵)"}},
"y":{"field":"y","type":"quantitative","axis":{"values":[0,200,400,600,800,1000],"format":"d","title":null}},
"color":{"field":"method","type":"nominal"}}}
]},
{"width":187,"height":116,"title":"finger-spin (image)","data":{"name":"finger"},
"layer":[
{"mark":{"type":"area","opacity":0.2},"encoding":{
"x":{"field":"x","type":"quantitative","scale":{"domain":[-0.045,5.15],"nice":false,"zero":false},"axis":{"values":[0,1,2,3,4,5],"format":"d","labelOverlap":false,"title":"Environment Steps (×10⁵)"}},
"y":{"field":"lo","type":"quantitative","scale":{"domain":[-175,970],"nice":false,"zero":false},"axis":{"values":[0,200,400,600,800],"format":"d","title":"Return"}},
"y2":{"field":"hi"},
"color":{"field":"method","type":"nominal"}}},
{"mark":{"type":"line","strokeWidth":1.5},"encoding":{
"x":{"field":"x","type":"quantitative","axis":{"values":[0,1,2,3,4,5],"format":"d","labelOverlap":false,"title":"Environment Steps (×10⁵)"}},
"y":{"field":"y","type":"quantitative","axis":{"values":[0,200,400,600,800],"format":"d","title":"Return"}},
"color":{"field":"method","type":"nominal"}}}
]},
{"width":187,"height":116,"title":"reacher-easy (image)","data":{"name":"reacher"},
"layer":[
{"mark":{"type":"area","opacity":0.2},"encoding":{
"x":{"field":"x","type":"quantitative","scale":{"domain":[-0.045,5.15],"nice":false,"zero":false},"axis":{"values":[0,1,2,3,4,5],"format":"d","labelOverlap":false,"title":"Environment Steps (×10⁵)"}},
"y":{"field":"lo","type":"quantitative","scale":{"domain":[-77,970],"nice":false,"zero":false},"axis":{"values":[0,200,400,600,800],"format":"d","title":null}},
"y2":{"field":"hi"},
"color":{"field":"method","type":"nominal"}}},
{"mark":{"type":"line","strokeWidth":1.5},"encoding":{
"x":{"field":"x","type":"quantitative","axis":{"values":[0,1,2,3,4,5],"format":"d","labelOverlap":false,"title":"Environment Steps (×10⁵)"}},
"y":{"field":"y","type":"quantitative","axis":{"values":[0,200,400,600,800],"format":"d","title":null}},
"color":{"field":"method","type":"nominal"}}}
]},
{"width":187,"height":116,"title":"walker-walk (image)","data":{"name":"walker"},
"layer":[
{"mark":{"type":"area","opacity":0.2},"encoding":{
"x":{"field":"x","type":"quantitative","scale":{"domain":[-0.045,5.15],"nice":false,"zero":false},"axis":{"values":[0,1,2,3,4,5],"format":"d","labelOverlap":false,"title":"Environment Steps (×10⁵)"}},
"y":{"field":"lo","type":"quantitative","scale":{"domain":[-70,1025],"nice":false,"zero":false},"axis":{"values":[0,200,400,600,800,1000],"format":"d","title":null}},
"y2":{"field":"hi"},
"color":{"field":"method","type":"nominal"}}},
{"mark":{"type":"line","strokeWidth":1.5},"encoding":{
"x":{"field":"x","type":"quantitative","axis":{"values":[0,1,2,3,4,5],"format":"d","labelOverlap":false,"title":"Environment Steps (×10⁵)"}},
"y":{"field":"y","type":"quantitative","axis":{"values":[0,200,400,600,800,1000],"format":"d","title":null}},
"color":{"field":"method","type":"nominal"}}}
]}
],
"config":{
"font":"Liberation Sans",
"view":{"fill":"#EAEAF2","stroke":null},
"axis":{"domain":false,"ticks":false,"gridColor":"#ffffff","gridWidth":1,"gridOpacity":1,"labelFontSize":8.5,"labelColor":"#262626","labelPadding":3,"titleFontSize":10.5,"titleFontWeight":"normal","titleColor":"#262626","titlePadding":3},
"title":{"fontSize":10,"fontWeight":"normal","color":"#262626","offset":5},
"legend":{"orient":"none","legendX":200,"legendY":-37,"direction":"horizontal","title":null,"symbolType":"stroke","symbolSize":484,"symbolStrokeWidth":1.5,"symbolOpacity":1,"labelFontSize":11,"labelOffset":9,"columnPadding":21,"labelColor":"#262626"}
}
}
